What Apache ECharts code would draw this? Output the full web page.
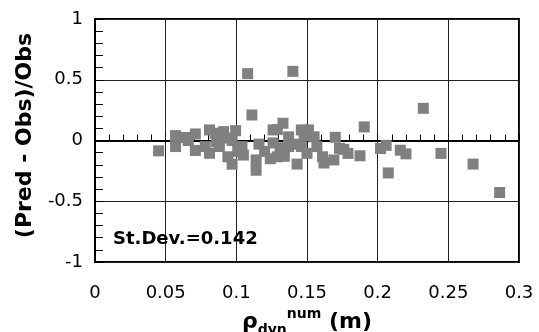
<!DOCTYPE html>
<html>
<head>
<meta charset="utf-8">
<script src="https://cdn.jsdelivr.net/npm/echarts@6/dist/echarts.min.js"></script>
<style>
html,body{margin:0;padding:0;background:#fff;}
#chart{width:539px;height:332px;}
</style>
</head>
<body>
<div id="chart"></div>
<script>
// Data
const rhoDyn = [
  0.045, 0.057, 0.057, 0.064, 0.066, 0.071, 0.071, 0.078, 0.081, 0.081,
  0.085, 0.086, 0.088, 0.091, 0.092, 0.094, 0.097, 0.0995, 0.097, 0.101,
  0.104, 0.105, 0.108, 0.111, 0.114, 0.114, 0.116, 0.120, 0.124, 0.126,
  0.126, 0.129, 0.129, 0.131, 0.133, 0.134, 0.137, 0.137, 0.140, 0.141,
  0.143, 0.146, 0.151, 0.155, 0.146, 0.148, 0.150, 0.157, 0.161, 0.162,
  0.169, 0.170, 0.173, 0.176, 0.179, 0.1875, 0.1905, 0.202, 0.206, 0.2075,
  0.216, 0.220, 0.2323, 0.2448, 0.2675, 0.2863
];
const relError = [
  -0.085, 0.040, -0.050, 0.025, 0.000, 0.054, -0.082, -0.050, 0.087, -0.105,
  0.060, -0.010, -0.050, 0.073, 0.020, -0.134, -0.195, 0.081, 0.000, -0.090,
  -0.050, -0.120, 0.550, 0.210, -0.160, -0.245, -0.030, -0.090, -0.150, 0.087,
  -0.020, 0.090, -0.134, -0.060, 0.142, -0.130, -0.050, 0.030, 0.569, -0.030,
  -0.194, 0.087, 0.087, 0.030, -0.050, 0.040, -0.106, -0.050, -0.134, -0.185,
  -0.160, 0.026, -0.065, -0.073, -0.106, -0.126, 0.112, -0.066, -0.040, -0.267,
  -0.080, -0.110, 0.265, -0.106, -0.194, -0.428
];
const xTicks = { min: 0, max: 0.3, step: 0.05 };
const yTicks = { min: -1, max: 1, step: 0.5 };
const stDevLabel = 'St.Dev.=0.142';

const points = rhoDyn.map((x, i) => [x, relError[i]]);

const chart = echarts.init(document.getElementById('chart'), null, { renderer: 'canvas' });
const labelFont = 'DejaVu Sans';

chart.setOption({
  animation: false,
  backgroundColor: '#ffffff',
  grid: {
    left: 95, right: 20, top: 19, bottom: 70,
    containLabel: false,
    outerBoundsMode: 'none',
    show: true, borderColor: '#000', borderWidth: 2, backgroundColor: 'transparent'
  },
  xAxis: {
    type: 'value',
    min: xTicks.min, max: xTicks.max, interval: xTicks.step,
    axisLine: { show: true, lineStyle: { color: '#000', width: 2 } },
    axisTick: { show: true, inside: true, length: 6, lineStyle: { color: '#000' } },
    minorTick: { show: true, splitNumber: 5, length: 6, lineStyle: { color: '#000', width: 1 } },
    splitLine: { show: true, lineStyle: { color: '#222', width: 1 } },
    axisLabel: { color: '#000', fontFamily: labelFont, fontSize: 18, margin: 22 },
    name: '{a|ρ}{b|dyn}{c|num}{a| (m)}',
    nameLocation: 'middle',
    nameGap: 44,
    nameTextStyle: {
      rich: {
        a: { fontFamily: labelFont, fontWeight: 'bold', fontSize: 22, color: '#000', lineHeight: 30, verticalAlign: 'middle' },
        b: { fontFamily: labelFont, fontWeight: 'bold', fontSize: 14, color: '#000', lineHeight: 14, verticalAlign: 'bottom' },
        c: { fontFamily: labelFont, fontWeight: 'bold', fontSize: 14, color: '#000', lineHeight: 14, verticalAlign: 'top' }
      }
    }
  },
  yAxis: {
    type: 'value',
    min: yTicks.min, max: yTicks.max, interval: yTicks.step,
    axisLine: { show: true, lineStyle: { color: '#000', width: 2 } },
    axisTick: { show: true, inside: true, length: 8, lineStyle: { color: '#000' } },
    minorTick: { show: true, splitNumber: 5, length: 8, lineStyle: { color: '#000', width: 1 } },
    splitLine: { show: true, lineStyle: { color: '#222', width: 1 } },
    axisLabel: { color: '#000', fontFamily: labelFont, fontSize: 18, margin: 12 },
    name: '(Pred - Obs)/Obs',
    nameLocation: 'middle',
    nameGap: 59,
    nameTextStyle: { fontFamily: labelFont, fontWeight: 'bold', fontSize: 22, color: '#000', padding: [0, 0, 0, 10] }
  },
  series: [{
    type: 'scatter',
    data: points,
    symbol: 'rect',
    symbolSize: 11,
    itemStyle: { color: '#808080', opacity: 1 },
    z: 3
  }],
  graphic: [{
    type: 'text',
    left: 113, top: 230,
    z: 10,
    style: { text: stDevLabel, fontFamily: labelFont, fontWeight: 'bold', fontSize: 18, fill: '#000' }
  }]
});
</script>
</body>
</html>
